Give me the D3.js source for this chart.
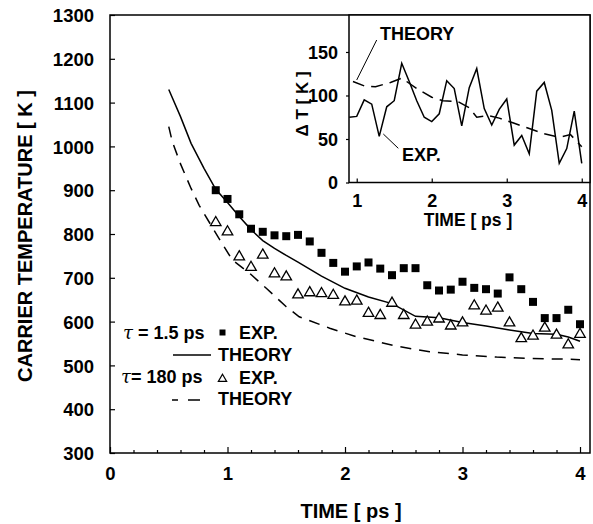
<!DOCTYPE html>
<html><head><meta charset="utf-8">
<script src="https://cdnjs.cloudflare.com/ajax/libs/d3/7.8.5/d3.min.js"></script>
<style>
body{margin:0;background:#fff;}
svg{display:block;}
text{font-family:"Liberation Sans",Arial,sans-serif;font-weight:bold;fill:#000;}
</style></head>
<body>
<svg id="chart" width="593" height="524"></svg>
<script>
// ---------- data ----------
const expTime = [0.9,1.0,1.1,1.2,1.3,1.4,1.5,1.6,1.7,1.8,1.9,2.0,2.1,2.2,2.3,2.4,2.5,2.6,2.7,2.8,2.9,3.0,3.1,3.2,3.3,3.4,3.5,3.6,3.7,3.8,3.9,4.0];
const expTau15 = [900,880,845,812,805,797,795,798,783,757,734,714,726,735,721,706,722,722,683,671,673,691,677,674,664,701,674,645,608,608,627,594];
const expTau180 = [826,805,748,724,752,709,702,661,666,664,660,645,647,619,614,642,614,592,599,606,590,597,636,624,631,597,561,567,585,569,547,571];
const theoryTau15Time = [0.5,0.6,0.69,0.8,0.9,1.0,1.1,1.2,1.3,1.4,1.5,1.6,1.8,2.0,2.2,2.4,2.6,2.8,3.0,3.2,3.4,3.6,3.8,3.9,4.0];
const theoryTau15 = [1130,1068,1007,950,902,872,840,810,785,767,751,736,704,676,656,641,612,609,598,590,581,573,571,565,555];
const theoryTau180Time = [0.5,0.53,0.6,0.69,0.76,0.9,1.04,1.19,1.33,1.5,1.61,1.87,2.09,2.44,2.72,3.0,3.29,3.57,3.91,4.0];
const theoryTau180 = [1045,1011,960,904,865,802,741,710,676,634,611,585,566,544,531,524,519,516,514,513];
// inset: Delta T
const insetExpTime = expTime;
const insetExp = [75,76,95,90,53,87,94,137,116,94,75,70,79,117,108,65,109,131,85,66,84,96,43,54,33,105,115,83,22,39,82,22];
const insetTheoryTime = [0.95,1.1,1.25,1.45,1.6,1.8,2.0,2.15,2.35,2.5,2.6,2.75,2.9,3.1,3.3,3.5,3.7,3.85,4.0];
const insetTheory = [116,111,110,115,120,108,98,94,93,86,75,77,74,68,62,56,52,55,41];
const yTicks = [300,400,500,600,700,800,900,1000,1100,1200,1300];
const xTicks = [0,1,2,3,4];
const insetYTicks = [0,50,100,150];
const insetXTicks = [1,2,3,4];

// ---------- layout ----------
const svg = d3.select("#chart");
const L=110, R=590, T=15, B=453;
const x = d3.scaleLinear().domain([0,4.085]).range([L,R]);
const y = d3.scaleLinear().domain([300,1300]).range([B,T]);

// y axis
const yAx = svg.append("g").attr("transform",`translate(${L},0)`)
  .call(d3.axisLeft(y).tickValues(yTicks).tickSize(-5).tickPadding(16).tickFormat(d3.format("d")));
// x axis major
const xAx = svg.append("g").attr("transform",`translate(0,${B})`)
  .call(d3.axisBottom(x).tickValues(xTicks).tickSize(-6).tickPadding(13.5).tickFormat(d3.format("d")));
// x minor ticks
const minor = d3.range(0,4.01,0.2).filter(v=>Math.abs(v-Math.round(v))>0.01);
svg.append("g").attr("transform",`translate(0,${B})`)
  .call(d3.axisBottom(x).tickValues(minor).tickSize(-3).tickFormat(""));
svg.selectAll(".domain").remove();
svg.selectAll(".tick line").attr("stroke","#000").attr("stroke-width",1.2);
yAx.selectAll("text").style("font-size","18.5px").attr("dy","0.36em");
xAx.selectAll("text").style("font-size","18.5px");

// frame
svg.append("rect").attr("x",L).attr("y",T).attr("width",R-L).attr("height",B-T)
  .attr("fill","none").attr("stroke","#000").attr("stroke-width",1.5);

// titles
svg.append("text").attr("x",351).attr("y",518).attr("text-anchor","middle")
  .style("font-size","20px").text("TIME [ ps ]");
svg.append("text").attr("transform","translate(32,236) rotate(-90)").attr("text-anchor","middle")
  .style("font-size","20px").text("CARRIER TEMPERATURE [ K ]");

// theory lines
const line = d3.line().x(d=>x(d[0])).y(d=>y(d[1]));
svg.append("path").datum(d3.zip(theoryTau15Time,theoryTau15)).attr("d",line)
  .attr("fill","none").attr("stroke","#000").attr("stroke-width",1.5);
svg.append("path").datum(d3.zip(theoryTau180Time,theoryTau180)).attr("d",line)
  .attr("fill","none").attr("stroke","#000").attr("stroke-width",1.5).attr("stroke-dasharray","11,8");

// exp points
svg.append("g").selectAll("path").data(d3.zip(expTime,expTau15)).join("path")
  .attr("transform",d=>`translate(${x(d[0])},${y(d[1])})`)
  .attr("d",d3.symbol(d3.symbolSquare,64)).attr("fill","#000");
svg.append("g").selectAll("path").data(d3.zip(expTime,expTau180)).join("path")
  .attr("transform",d=>`translate(${x(d[0])},${y(d[1])})`)
  .attr("d",d3.symbol(d3.symbolTriangle,48)).attr("fill","#fff").attr("stroke","#000").attr("stroke-width",1.3);

// legend
function tau(xp,yp,rest){
  const t=svg.append("text").attr("x",xp).attr("y",yp).style("font-size","18px");
  t.append("tspan").style("font-family","'DejaVu Serif',serif").style("font-style","italic").style("font-weight","normal").text("\u03C4");
  t.append("tspan").text(rest);
}
tau(123,339," = 1.5 ps");
svg.append("path").attr("transform","translate(222.5,332.5)").attr("d",d3.symbol(d3.symbolSquare,36)).attr("fill","#000");
svg.append("text").attr("x",239).attr("y",339).style("font-size","18px").text("EXP.");
svg.append("line").attr("x1",173).attr("x2",211).attr("y1",355).attr("y2",355).attr("stroke","#000").attr("stroke-width",1.5);
svg.append("text").attr("x",218).attr("y",361).style("font-size","18px").text("THEORY");
tau(121,383,"= 180 ps");
svg.append("path").attr("transform","translate(222.5,379)").attr("d",d3.symbol(d3.symbolTriangle,30)).attr("fill","#fff").attr("stroke","#000").attr("stroke-width",1.2);
svg.append("text").attr("x",239).attr("y",384).style("font-size","18px").text("EXP.");
svg.append("line").attr("x1",172).attr("x2",200).attr("y1",400).attr("y2",400).attr("stroke","#000").attr("stroke-width",1.5).attr("stroke-dasharray","6,10,12,50");
svg.append("text").attr("x",218).attr("y",405).style("font-size","18px").text("THEORY");

// ---------- inset ----------
const iL=349, iR=590, iT=15, iB=182.5;
const ix = d3.scaleLinear().domain([0.897,4.11]).range([iL,iR]);
const iy = d3.scaleLinear().domain([0,192.5]).range([iB,iT]);
svg.append("rect").attr("x",iL).attr("y",iT).attr("width",iR-iL).attr("height",iB-iT)
  .attr("fill","#fff").attr("stroke","#000").attr("stroke-width",1.5);
const iyAx = svg.append("g").attr("transform",`translate(${iL},0)`)
  .call(d3.axisLeft(iy).tickValues(insetYTicks).tickSize(3).tickPadding(8).tickFormat(d3.format("d")));
const ixAx = svg.append("g").attr("transform",`translate(0,${iB})`)
  .call(d3.axisBottom(ix).tickValues(insetXTicks).tickSize(-4).tickPadding(12).tickFormat(d3.format("d")));
iyAx.select(".domain").remove(); ixAx.select(".domain").remove();
iyAx.selectAll(".tick line").attr("stroke","#000").attr("stroke-width",1.2);
ixAx.selectAll(".tick line").attr("stroke","#000").attr("stroke-width",1.2);
iyAx.selectAll("text").style("font-size","18px").attr("dy","0.36em");
ixAx.selectAll("text").style("font-size","18px");
svg.append("text").attr("x",468).attr("y",226).attr("text-anchor","middle").style("font-size","17.5px").text("TIME [ ps ]");
svg.append("text").attr("transform","translate(308,104) rotate(-90)").attr("text-anchor","middle")
  .style("font-size","17px").text("\u0394 T [ K ]");

const iline = d3.line().x(d=>ix(d[0])).y(d=>iy(d[1]));
svg.append("path").datum(d3.zip(insetExpTime,insetExp)).attr("d",iline)
  .attr("fill","none").attr("stroke","#000").attr("stroke-width",1.5);
svg.append("path").datum(d3.zip(insetTheoryTime,insetTheory)).attr("d",iline)
  .attr("fill","none").attr("stroke","#000").attr("stroke-width",1.5).attr("stroke-dasharray","12,7");

// inset annotations
svg.append("text").attr("x",380).attr("y",40).style("font-size","18px").text("THEORY");
svg.append("line").attr("x1",376.7).attr("y1",40).attr("x2",356.7).attr("y2",80).attr("stroke","#000").attr("stroke-width",1);
svg.append("text").attr("x",402).attr("y",161).style("font-size","18px").text("EXP.");
svg.append("line").attr("x1",383.3).attr("y1",134).attr("x2",398.3).attr("y2",148.3).attr("stroke","#000").attr("stroke-width",1);
</script>
</body></html>
